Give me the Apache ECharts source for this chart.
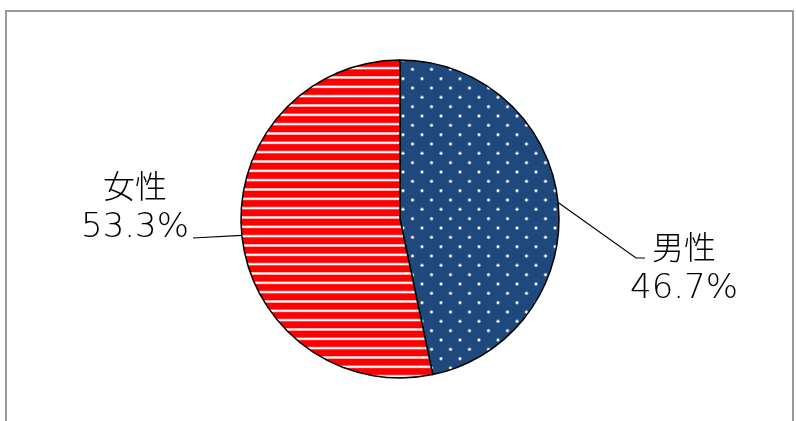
<!DOCTYPE html>
<html>
<head>
<meta charset="utf-8">
<script src="https://cdn.jsdelivr.net/npm/echarts@6/dist/echarts.min.js"></script>
<style>
html,body{margin:0;padding:0;background:#fff;}
#c{width:796px;height:421px;}
</style>
</head>
<body>
<div id="c"></div>
<script>
// Data
const categories = ['男性', '女性'];
const values = [46.7, 53.3];

// Pattern tiles
function dotTile() {
  const c = document.createElement('canvas');
  c.width = 19; c.height = 56;
  const g = c.getContext('2d');
  g.fillStyle = '#1F497D';
  g.fillRect(0, 0, 19, 56);
  for (let k = 0; k < 6; k++) {
    const y = 4 + k * 9.333;
    const x = 4 + (k % 2) * 9.5;
    g.fillStyle = 'rgba(255,255,255,0.35)';
    g.beginPath(); g.arc(x, y, 2, 0, Math.PI * 2); g.fill();
    g.fillStyle = '#ffffff';
    g.beginPath(); g.arc(x, y, 1.2, 0, Math.PI * 2); g.fill();
  }
  return c;
}
function stripeTile() {
  const c = document.createElement('canvas');
  c.width = 10; c.height = 28;
  const g = c.getContext('2d');
  g.fillStyle = '#FF0000';
  g.fillRect(0, 0, 10, 28);
  for (let k = 0; k < 3; k++) {
    const y = 2 + k * 9.333;
    g.fillStyle = 'rgba(255,170,170,0.85)';
    g.fillRect(0, y - 0.6, 10, 2.8);
    g.fillStyle = '#ffffff';
    g.fillRect(0, y, 10, 1.6);
  }
  return c;
}

const fills = [
  { image: dotTile(), repeat: 'repeat' },
  { image: stripeTile(), repeat: 'repeat' }
];

const labelPlaces = [
  { x: 684, y: 268, line: [[636, 258], [645, 258]] },
  { x: 135, y: 207, line: [[193, 238]] }
];

const chart = echarts.init(document.getElementById('c'), null, { renderer: 'canvas' });
chart.setOption({
  animation: false,
  backgroundColor: '#fff',
  graphic: [{
    type: 'rect',
    shape: { x: 6, y: 11, width: 787, height: 430 },
    style: { fill: 'none', stroke: '#9a9a9a', lineWidth: 2 },
    silent: true
  }],
  series: [{
    type: 'pie',
    center: [400, 219],
    radius: [0, 159],
    startAngle: 90,
    clockwise: true,
    silent: true,
    emphasis: { disabled: true },
    itemStyle: { borderColor: '#000', borderWidth: 1.5 },
    label: {
      show: true,
      position: 'outside',
      formatter: p => '{n|' + p.name + '}\n{v|' + p.value.toFixed(1) + '%}',
      color: '#000',
      align: 'center',
      rich: {
        n: {
          fontFamily: '"Noto Sans CJK JP", sans-serif',
          fontWeight: 300,
          fontSize: 32,
          lineHeight: 42,
          color: '#000'
        },
        v: {
          fontFamily: '"DejaVu Sans", sans-serif',
          fontWeight: 200,
          fontSize: 34,
          lineHeight: 42,
          color: '#000'
        }
      }
    },
    labelLine: { show: true, lineStyle: { color: '#000', width: 1.2 } },
    labelLayout: function (params) {
      const pl = labelPlaces[params.dataIndex];
      const p0 = params.labelLinePoints ? params.labelLinePoints[0] : null;
      const pts = p0 ? [p0].concat(pl.line) : undefined;
      return { x: pl.x, y: pl.y, align: 'center', verticalAlign: 'middle', labelLinePoints: pts };
    },
    data: categories.map((n, i) => ({ name: n, value: values[i], itemStyle: { color: fills[i] } }))
  }]
});
</script>
</body>
</html>
